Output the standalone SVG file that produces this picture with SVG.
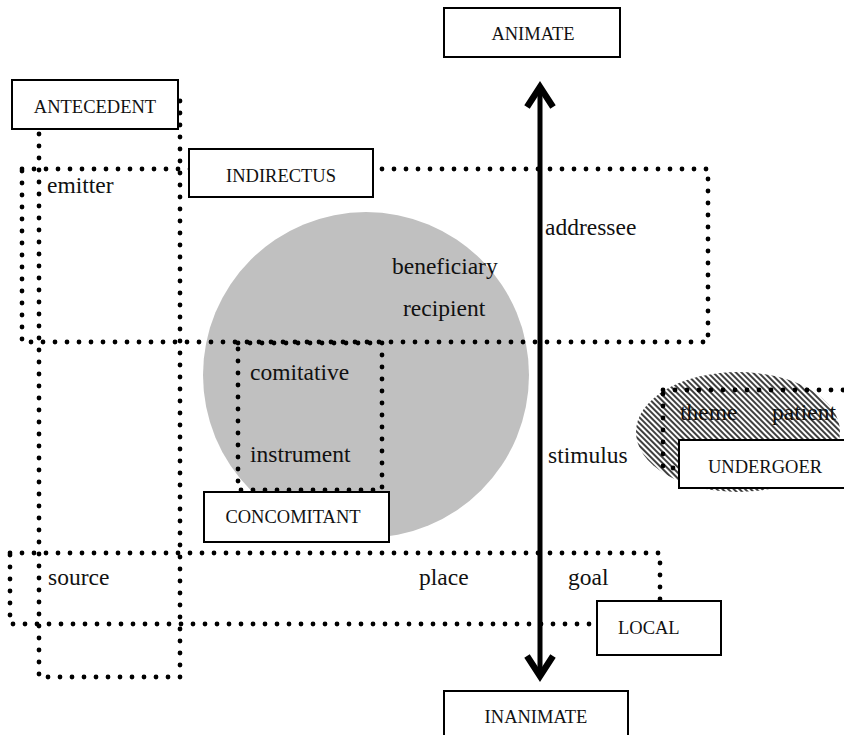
<svg xmlns="http://www.w3.org/2000/svg" width="844" height="735" viewBox="0 0 844 735">
<defs>
<pattern id="hatch" patternUnits="userSpaceOnUse" width="4" height="4" patternTransform="rotate(-45)">
<rect x="0" y="0" width="4" height="4" fill="#ffffff"/>
<rect x="0" y="0" width="2" height="4" fill="#404040"/>
</pattern>
<style>
.dot{fill:none;stroke:#000;stroke-width:4.8;stroke-linecap:round;stroke-dasharray:0 12;}
.box{fill:#fff;stroke:#000;stroke-width:2;}
.cap{font-family:"Liberation Serif","Times New Roman",serif;font-size:18.5px;fill:#111;}
.lab{font-family:"Liberation Serif","Times New Roman",serif;font-size:23.5px;fill:#111;}
.mid{text-anchor:middle;}
</style>
</defs>
<rect width="844" height="735" fill="#fff"/>

<g id="animacy-circle"><circle cx="366" cy="375" r="163" fill="#c0c0c0"/></g>
<g id="undergoer-ellipse"><ellipse cx="738" cy="432" rx="102" ry="60" fill="url(#hatch)"/></g>

<g id="regions">
<rect id="r-antecedent" class="dot" x="39" y="98" width="141" height="579"/>
<rect id="r-indirectus" class="dot" x="22" y="169" width="686" height="173"/>
<rect id="r-concomitant" class="dot" x="238" y="343" width="144" height="147"/>
<rect id="r-local" class="dot" x="10" y="553" width="650" height="71"/>
<rect id="r-undergoer" class="dot" x="663" y="390" width="200" height="78"/>
</g>

<g id="connectors">
<line x1="540" y1="88" x2="540" y2="676" stroke="#000" stroke-width="5"/>
<polyline points="527,107 540,87 553,107" fill="none" stroke="#000" stroke-width="6.5" stroke-linejoin="miter"/>
<polyline points="527,656 540,676 553,656" fill="none" stroke="#000" stroke-width="6.5" stroke-linejoin="miter"/>
</g>

<g id="labels">
<text class="lab" x="47" y="193">emitter</text>
<text class="lab" x="545" y="235">addressee</text>
<text class="lab" x="392" y="274">beneficiary</text>
<text class="lab" x="403" y="316">recipient</text>
<text class="lab" x="250" y="380">comitative</text>
<text class="lab" x="250" y="462">instrument</text>
<text class="lab" x="548" y="463">stimulus</text>
<text class="lab" x="680" y="420">theme</text>
<text class="lab" x="772" y="420">patient</text>
<text class="lab" x="48" y="585">source</text>
<text class="lab" x="419" y="585">place</text>
<text class="lab" x="568" y="585">goal</text>
</g>

<g id="antecedent"><rect class="box" x="12" y="80" width="166" height="49"/><text class="cap mid" x="95" y="113">ANTECEDENT</text></g>
<g id="indirectus"><rect class="box" x="189" y="149" width="184" height="48"/><text class="cap mid" x="281" y="182">INDIRECTUS</text></g>
<g id="animate"><rect class="box" x="444" y="8" width="176" height="49"/><text class="cap mid" x="533" y="40">ANIMATE</text></g>
<g id="concomitant"><rect class="box" x="204" y="492" width="185" height="50"/><text class="cap mid" x="293" y="523">CONCOMITANT</text></g>
<g id="undergoer"><rect class="box" x="679" y="440" width="175" height="48"/><text class="cap mid" x="765" y="473">UNDERGOER</text></g>
<g id="local"><rect class="box" x="597" y="601" width="124" height="54"/><text class="cap" x="618" y="634">LOCAL</text></g>
<g id="inanimate"><rect class="box" x="444" y="691" width="184" height="60"/><text class="cap mid" x="536" y="723">INANIMATE</text></g>
</svg>
